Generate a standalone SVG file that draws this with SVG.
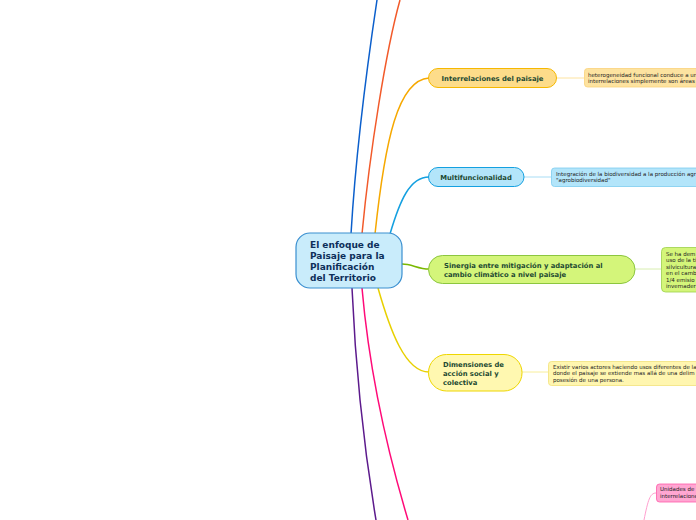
<svg xmlns="http://www.w3.org/2000/svg" width="696" height="520" viewBox="0 0 696 520">
<style>
.c{fill:none;stroke-width:1.5}
.t{font-family:"DejaVu Sans","Verdana",sans-serif;font-weight:bold;fill:#1d4a32}
.s{font-family:"DejaVu Sans","Verdana",sans-serif;fill:#222;font-size:5.5px}
.sub{fill:none;stroke-width:1}
</style>
<rect width="696" height="520" fill="#ffffff"/>
<g id="connectors">
<path class="c" stroke="#0b5fcc" d="M351,234 C356,150 368,60 377,0"/>
<path class="c" stroke="#f25a2a" d="M362,234 C370,150 386,50 400,0"/>
<path class="c" stroke="#f6a800" d="M375,234 C385,140 398,80 429,78"/>
<path class="c" stroke="#14a0e0" d="M390,234 C400,200 410,177 429,177"/>
<path class="c" stroke="#7ab800" d="M402,264 C412,264 418,269 429,269"/>
<path class="c" stroke="#e8d000" d="M378,288 C390,330 405,372 429,372"/>
<path class="c" stroke="#ff0a78" d="M362,288 C370,380 390,460 408,520"/>
<path class="c" stroke="#5c1a8c" d="M352,288 C356,380 366,460 376,520"/>
<path class="sub" stroke="#fde3a0" d="M557,78 L584,78"/>
<path class="sub" stroke="#a8ddf5" d="M524,177 L551,177"/>
<path class="sub" stroke="#d8eeb0" d="M635,269 L661,269"/>
<path class="sub" stroke="#f8ee9a" d="M522,372 L548,372"/>
<path class="sub" stroke="#ff9fcf" d="M644,520 C648,500 650,493 656,493"/>
</g>
<g id="central">
<rect x="296" y="233" width="106" height="55" rx="14" fill="#c9ecfb" stroke="#3a8fd0" stroke-width="1.2"/>
<text class="t" font-size="9" style="fill:#0d2f5a"><tspan x="310" y="248">El enfoque de</tspan><tspan x="310" y="259">Paisaje para la</tspan><tspan x="310" y="270">Planificación</tspan><tspan x="310" y="281">del Territorio</tspan></text>
</g>
<g id="interrelaciones">
<rect x="428.5" y="68.5" width="128" height="19" rx="9.5" fill="#fddc8a" stroke="#f6b800"/>
<text class="t" font-size="6.8" x="492.5" y="81" text-anchor="middle">Interrelaciones del paisaje</text>
</g>
<g id="interrelaciones-detalle">
<rect x="584.5" y="68.5" width="130" height="18.5" rx="3" fill="#fde3a0" stroke="#fad27a" stroke-width="0.8"/>
<text class="s"><tspan x="588" y="76.5">heterogeneidad funcional conduce a un</tspan><tspan x="588" y="83">interrelaciones simplemente son áreas</tspan></text>
</g>
<g id="multifuncionalidad">
<rect x="428.5" y="167.5" width="95.5" height="19" rx="9.5" fill="#b3e5fa" stroke="#14a0e0"/>
<text class="t" font-size="6.8" x="476" y="180" text-anchor="middle">Multifuncionalidad</text>
</g>
<g id="multifuncionalidad-detalle">
<rect x="551.5" y="168" width="160" height="18.5" rx="3" fill="#b3e5fa" stroke="#7ccbef" stroke-width="0.8"/>
<text class="s"><tspan x="556" y="175.5">Integración de la biodiversidad a la producción agr</tspan><tspan x="556" y="182">"agrobiodiversidad"</tspan></text>
</g>
<g id="sinergia">
<rect x="428.5" y="255.5" width="206.5" height="28" rx="14" fill="#d4f57a" stroke="#8cc63f"/>
<text class="t" font-size="6.8"><tspan x="444" y="267.5">Sinergia entre mitigación y adaptación al</tspan><tspan x="444" y="277">cambio climático a nivel paisaje</tspan></text>
</g>
<g id="sinergia-detalle">
<rect x="661.5" y="247.5" width="60" height="44.5" rx="4" fill="#d4f57a" stroke="#9cd04a" stroke-width="0.8"/>
<text class="s"><tspan x="666" y="255.5">Se ha dem</tspan><tspan x="666" y="262">uso de la ti</tspan><tspan x="666" y="268.5">silvicultura</tspan><tspan x="666" y="275">en el camb</tspan><tspan x="666" y="281.5">1/4 emisio</tspan><tspan x="666" y="288">invernader</tspan></text>
</g>
<g id="dimensiones">
<rect x="428.5" y="354.5" width="93.5" height="36.5" rx="18" fill="#fff8b0" stroke="#eed600"/>
<text class="t" font-size="6.8"><tspan x="443" y="366.5">Dimensiones de</tspan><tspan x="443" y="375.5">acción social y</tspan><tspan x="443" y="384.5">colectiva</tspan></text>
</g>
<g id="dimensiones-detalle">
<rect x="548.5" y="361.5" width="160" height="24" rx="3" fill="#fff6b0" stroke="#f3e27a" stroke-width="0.8"/>
<text class="s"><tspan x="553" y="368.5">Existir varios actores haciendo usos diferentes de la</tspan><tspan x="553" y="375">donde el paisaje se extiende mas allá de una delim</tspan><tspan x="553" y="381.5">posesión de una persona.</tspan></text>
</g>
<g id="unidades">
<rect x="656.5" y="484" width="60" height="18" rx="3" fill="#ffa6d2" stroke="#ff5aa8" stroke-width="0.8"/>
<text class="s"><tspan x="660" y="491">Unidades de</tspan><tspan x="660" y="497.5">interrelacione</tspan></text>
</g>
</svg>
